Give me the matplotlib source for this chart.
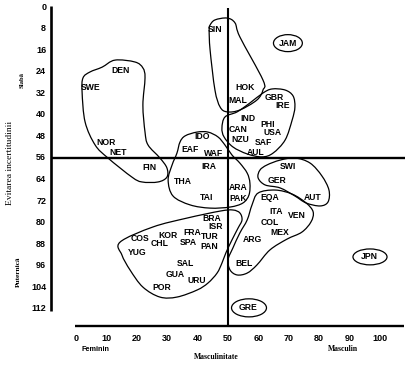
import numpy as np
import matplotlib
matplotlib.use("Agg")
import matplotlib.pyplot as plt
from matplotlib.path import Path
from matplotlib.patches import PathPatch, Ellipse

# country labels: masculinity (x), uncertainty avoidance (y)
countries = ["SIN", "JAM", "DEN", "SWE", "HOK", "MAL", "GBR", "IRE", "IND", "PHI",
             "USA", "CAN", "NZU", "SAF", "AUL", "IDO", "EAF", "WAF", "NOR", "NET",
             "FIN", "IRA", "THA", "TAI", "ARA", "PAK", "SWI", "GER", "EQA", "AUT",
             "ITA", "VEN", "COL", "MEX", "BRA", "ISR", "TUR", "FRA", "KOR", "COS",
             "CHL", "SPA", "PAN", "ARG", "YUG", "SAL", "BEL", "JPN", "GUA", "URU",
             "POR", "GRE"]
mas = [45.7, 69.7, 14.5, 4.9, 55.6, 53.3, 65.1, 68.1, 56.6, 63.2,
       64.5, 53.3, 53.9, 61.5, 59.2, 41.4, 37.5, 45.1, 9.9, 13.8,
       24.3, 43.8, 35.2, 42.8, 53.3, 53.3, 69.7, 66.1, 63.8, 78.0,
       65.8, 72.7, 63.8, 67.1, 44.7, 45.9, 44.1, 38.2, 30.3, 21.1,
       27.6, 36.8, 43.8, 57.9, 20.1, 35.9, 55.3, 96.4, 32.6, 39.8,
       28.3, 56.6]
uai = [8.5, 13.4, 23.7, 30.0, 30.0, 34.5, 33.4, 36.7, 41.2, 43.4,
       46.7, 45.3, 49.3, 50.4, 53.8, 48.2, 52.7, 54.2, 50.4, 53.8,
       59.7, 59.3, 64.9, 70.5, 66.8, 71.2, 59.0, 64.5, 70.5, 70.8,
       75.7, 77.5, 80.1, 83.8, 78.3, 81.6, 85.0, 83.8, 84.6, 85.7,
       87.9, 87.5, 88.8, 86.4, 91.2, 95.0, 95.0, 92.7, 99.4, 101.3,
       103.9, 111.6]

# hand drawn cluster outlines (x, y)
nordic_x = [12.8, 19.4, 22.0, 22.7, 22.0, 22.7, 23.7, 27.6, 29.9, 29.9, 27.0, 21.7,
            18.4, 10.5, 6.3, 3.0, 2.0, 2.3, 4.6, 8.6]
nordic_y = [19.7, 20.4, 22.6, 26.3, 36.4, 46.4, 51.2, 56.0, 59.7, 63.1, 64.9, 64.9,
            63.1, 56.0, 51.2, 42.7, 31.5, 26.3, 24.1, 22.3]
sin_x = [44.1, 45.7, 49.7, 52.3, 53.9, 61.5, 61.5, 59.5, 53.9, 49.7, 47.4, 45.7, 44.1, 43.8]
sin_y = [6.7, 4.8, 4.1, 5.9, 11.1, 27.1, 30.8, 34.5, 38.2, 38.9, 37.1, 30.8, 15.9, 8.5]
anglo_x = [48.0, 49.0, 53.0, 57.2, 61.5, 64.5, 68.8, 71.4, 72.0, 71.1, 68.8, 64.8,
           61.2, 56.3, 51.6, 48.7]
anglo_y = [44.9, 40.8, 38.9, 35.6, 31.9, 30.4, 30.8, 33.0, 37.1, 41.9, 49.3, 54.2,
           55.6, 54.5, 51.9, 48.2]
asia_x = [34.2, 35.9, 39.8, 43.4, 46.7, 49.0, 51.3, 53.9, 56.3, 57.2, 56.9, 54.9,
          50.7, 44.1, 37.5, 31.9, 30.3, 31.6, 33.2]
asia_y = [50.1, 47.8, 46.4, 46.4, 48.2, 51.2, 54.9, 57.9, 61.6, 65.3, 69.7, 72.7,
          74.2, 74.6, 73.4, 70.1, 64.2, 58.6, 54.2]
latin_x = [14.5, 25.3, 36.5, 47.4, 51.6, 53.9, 54.6, 53.3, 51.3, 49.3, 48.0, 46.4,
           43.4, 39.8, 33.2, 27.6, 22.0, 17.8, 15.1]
latin_y = [87.2, 81.6, 78.3, 75.7, 75.3, 76.4, 79.0, 82.0, 86.4, 91.2, 95.0, 98.7,
           102.4, 105.0, 107.6, 107.6, 103.9, 97.6, 92.0]
ger_x = [62.8, 67.1, 72.0, 77.0, 80.9, 83.2, 82.9, 80.3, 75.7, 72.0, 67.1, 62.2, 59.9, 60.5]
ger_y = [58.6, 56.8, 56.0, 57.9, 62.7, 67.9, 72.3, 73.8, 72.7, 70.1, 67.1, 66.0, 63.4, 60.5]
eqa_x = [59.9, 65.5, 71.1, 75.7, 78.0, 77.3, 74.3, 69.4, 63.8, 59.5, 56.3, 53.0,
         50.7, 50.0, 51.6, 53.9, 56.3, 57.9]
eqa_y = [69.0, 67.9, 69.4, 72.7, 76.0, 79.7, 83.5, 86.1, 90.1, 95.7, 98.7, 99.4,
         97.6, 93.8, 89.4, 83.8, 79.0, 73.4]

# single country rings: centre x, centre y, width, height
ring_x = [69.7, 96.7, 56.9]
ring_y = [13.4, 92.7, 111.6]
ring_w = [9.5, 11.2, 11.5]
ring_h = [6.3, 5.9, 6.7]

x_ticks = [0, 10, 20, 30, 40, 50, 60, 70, 80, 90, 100]
y_ticks = [0, 8, 16, 24, 32, 40, 48, 56, 64, 72, 80, 88, 96, 104, 112]


def closed_curve(xs, ys):
    # closed Catmull-Rom spline written as cubic Bezier segments
    pts = np.column_stack([xs, ys])
    n = len(pts)
    verts = [pts[0]]
    codes = [Path.MOVETO]
    for i in range(n):
        p0, p1, p2, p3 = pts[i - 1], pts[i], pts[(i + 1) % n], pts[(i + 2) % n]
        verts += [p1 + (p2 - p0) / 6, p2 - (p3 - p1) / 6, p2]
        codes += [Path.CURVE4] * 3
    return Path(verts, codes)


fig = plt.figure(figsize=(4.08, 3.65), dpi=100)
ax = fig.add_axes([0, 0, 1, 1])
ax.set_xlim(-25.0, 109.2)
ax.set_ylim(132.8, -2.6)
ax.axis("off")

# axes and crosshair
ax.plot([-8.1, -8.1], [-0.4, 112.8], color="black", lw=1.9, solid_capstyle="butt")
ax.plot([-0.3, 107.9], [118.3, 118.3], color="black", lw=1.7, solid_capstyle="butt")
ax.plot([50, 50], [0.3, 118.3], color="black", lw=1.5, solid_capstyle="butt")
ax.plot([-8.1, 108.2], [56, 56], color="black", lw=1.7, solid_capstyle="butt")

tick_font = dict(fontfamily="Liberation Sans", fontweight="bold", fontsize=6.5)
for t in y_ticks:
    ax.text(-9.8, t, str(t), ha="right", va="center", **tick_font)
for t in x_ticks:
    ax.text(t, 122.8, str(t), ha="center", va="center", **tick_font)

outlines = [(nordic_x, nordic_y), (sin_x, sin_y), (anglo_x, anglo_y),
            (asia_x, asia_y), (latin_x, latin_y), (ger_x, ger_y), (eqa_x, eqa_y)]
for xs, ys in outlines:
    ax.add_patch(PathPatch(closed_curve(xs, ys), fill=False, ec="black", lw=0.9))

for cx, cy, w, h in zip(ring_x, ring_y, ring_w, ring_h):
    ax.add_patch(Ellipse((cx, cy), w, h, fill=False, ec="black", lw=0.9))

for name, x, y in zip(countries, mas, uai):
    ax.text(x, y, name, ha="center", va="center", fontfamily="Liberation Sans",
            fontweight="bold", fontsize=6.2)

serif = dict(fontfamily="Liberation Serif", fontweight="bold")
ax.text(-17.8, 27.1, "Slabă", rotation=90, ha="center", va="center", fontsize=4.8, **serif)
ax.text(-21.7, 57.9, "Evitarea incertitudinii", rotation=90, ha="center", va="center",
        fontsize=6.8, fontfamily="Liberation Serif")
ax.text(-19.1, 98.3, "Puternică", rotation=90, ha="center", va="center", fontsize=5.3, **serif)
ax.text(6.3, 126.9, "Feminin", ha="center", va="center", fontsize=5.2,
        fontfamily="Liberation Sans", fontweight="bold")
ax.text(46.1, 129.8, "Masculinitate", ha="center", va="center", fontsize=5.5, **serif)
ax.text(87.8, 126.9, "Masculin", ha="center", va="center", fontsize=5.5, **serif)

fig.savefig("out.png", dpi=100)
